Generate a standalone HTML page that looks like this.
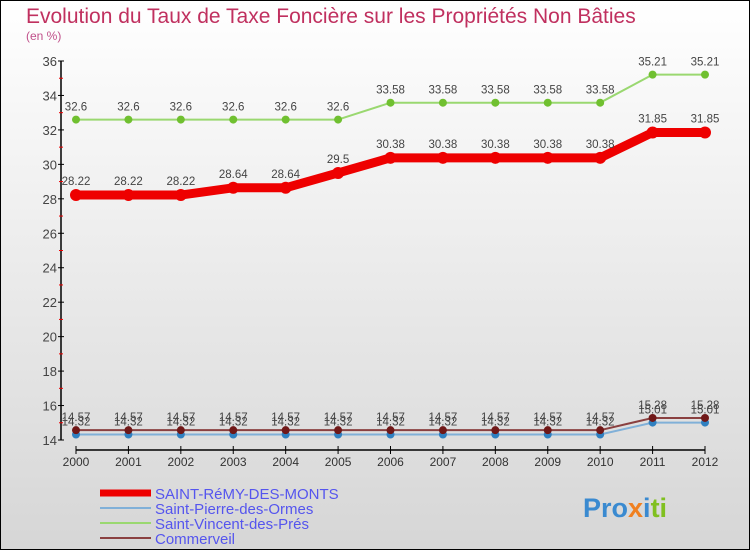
<!DOCTYPE html>
<html><head><meta charset="utf-8"><style>
body{margin:0}
svg{display:block;font-family:"Liberation Sans",sans-serif}
</style></head><body>
<svg width="750" height="550" viewBox="0 0 750 550">
<defs><linearGradient id="bg" x1="0" y1="0" x2="0" y2="1"><stop offset="0" stop-color="#ffffff"/><stop offset="1" stop-color="#d6d6d6"/></linearGradient></defs>
<rect x="0.5" y="0.5" width="749" height="549" fill="url(#bg)" stroke="#000"/>
<text x="26" y="23" font-size="21" fill="#c0305f">Evolution du Taux de Taxe Foncière sur les Propriétés Non Bâties</text>
<text x="26" y="40" font-size="12" fill="#c0508a">(en %)</text>
<g id="axes"></g>
<g id="series"></g>
<g id="legend"></g>
<text x="583" y="517" font-size="27" font-weight="bold" fill="#3a8ad0">Pro<tspan fill="#f08020">x</tspan><tspan fill="#3a8ad0">i</tspan><tspan fill="#80c020">ti</tspan></text>
</svg>
<script>
const years=[2000,2001,2002,2003,2004,2005,2006,2007,2008,2009,2010,2011,2012];
const stRemy=[28.22,28.22,28.22,28.64,28.64,29.5,30.38,30.38,30.38,30.38,30.38,31.85,31.85];
const stPierre=[14.32,14.32,14.32,14.32,14.32,14.32,14.32,14.32,14.32,14.32,14.32,15.01,15.01];
const stVincent=[32.6,32.6,32.6,32.6,32.6,32.6,33.58,33.58,33.58,33.58,33.58,35.21,35.21];
const commerveil=[14.57,14.57,14.57,14.57,14.57,14.57,14.57,14.57,14.57,14.57,14.57,15.28,15.28];
const yTicks=[14,16,18,20,22,24,26,28,30,32,34,36];
const NS="http://www.w3.org/2000/svg";
function X(i){return 76+i*(705-76)/(years.length-1);}
function Y(v){return 440-(v-14)*(440-61)/22;}
function mk(t,a,p){const e=document.createElementNS(NS,t);for(const k in a)e.setAttribute(k,a[k]);p.appendChild(e);return e;}
const ax=document.getElementById('axes');
let l=mk('line',{x1:61,y1:61,x2:61,y2:440,stroke:'#000','stroke-width':1.5},ax);


yTicks.forEach((v,k)=>{
 mk('line',{x1:58,x2:64,y1:Y(v),y2:Y(v),stroke:'#000'},ax);
 if(k<yTicks.length-1) mk('line',{x1:59,x2:63,y1:Y(v+1),y2:Y(v+1),stroke:'#e00'},ax);
 const t=mk('text',{x:57,y:Y(v)+5,'text-anchor':'end','font-size':13,fill:'#444'},ax);
 t.textContent=v;
 
 
});
l=mk('line',{x1:X(0),y1:450,x2:X(12),y2:450,stroke:'#000','stroke-width':1.5},ax);


years.forEach((y,i)=>{
 mk('line',{x1:X(i),x2:X(i),y1:446,y2:454,stroke:'#000'},ax);
 const t=mk('text',{x:X(i),y:466,'text-anchor':'middle','font-size':12,fill:'#333'},ax);
 t.textContent=y;
 
 
});
const sg=document.getElementById('series');
const defs=[
 {d:stVincent,c:'#9ad870',w:2,dot:'#70c030',r:4,name:'saint-vincent',lab:-9},
 {d:stPierre,c:'#80b0d8',w:2,dot:'#3080c0',r:4,name:'saint-pierre',lab:-9},
 {d:commerveil,c:'#8a4040',w:2,dot:'#701818',r:4,name:'commerveil',lab:-9},
 {d:stRemy,c:'#ee0000',w:9,dot:'#ee0000',r:6,name:'saint-remy',lab:-10}
];
defs.forEach(s=>{
 const g=mk('g',{},sg);
 
 
 const p=mk('polyline',{points:s.d.map((v,i)=>X(i)+','+Y(v)).join(' '),fill:'none',stroke:s.c,'stroke-width':s.w,'stroke-linejoin':'round'},g);
 
 
 s.d.forEach((v,i)=>{
  const c=mk('circle',{cx:X(i),cy:Y(v),r:s.r,fill:s.dot},g);
  
  
  const t=mk('text',{x:X(i),y:Y(v)+s.lab,'text-anchor':'middle','font-size':11.5,fill:'#444'},g);
  t.textContent=v;
  
  
 });
});
const lg=document.getElementById('legend');
[['SAINT-RéMY-DES-MONTS','#ee0000',7],['Saint-Pierre-des-Ormes','#80b0d8',2],['Saint-Vincent-des-Prés','#9ad870',2],['Commerveil','#8a4040',2]].forEach((e,i)=>{
 const y=493+i*15;
 const ln=mk('line',{x1:100,x2:151,y1:y,y2:y,stroke:e[1],'stroke-width':e[2]},lg);
 
 
 const t=mk('text',{x:155,y:y+6,'font-size':15,fill:'#5555ee'},lg);
 t.textContent=e[0];
 
 
});
</script>
</body></html>
